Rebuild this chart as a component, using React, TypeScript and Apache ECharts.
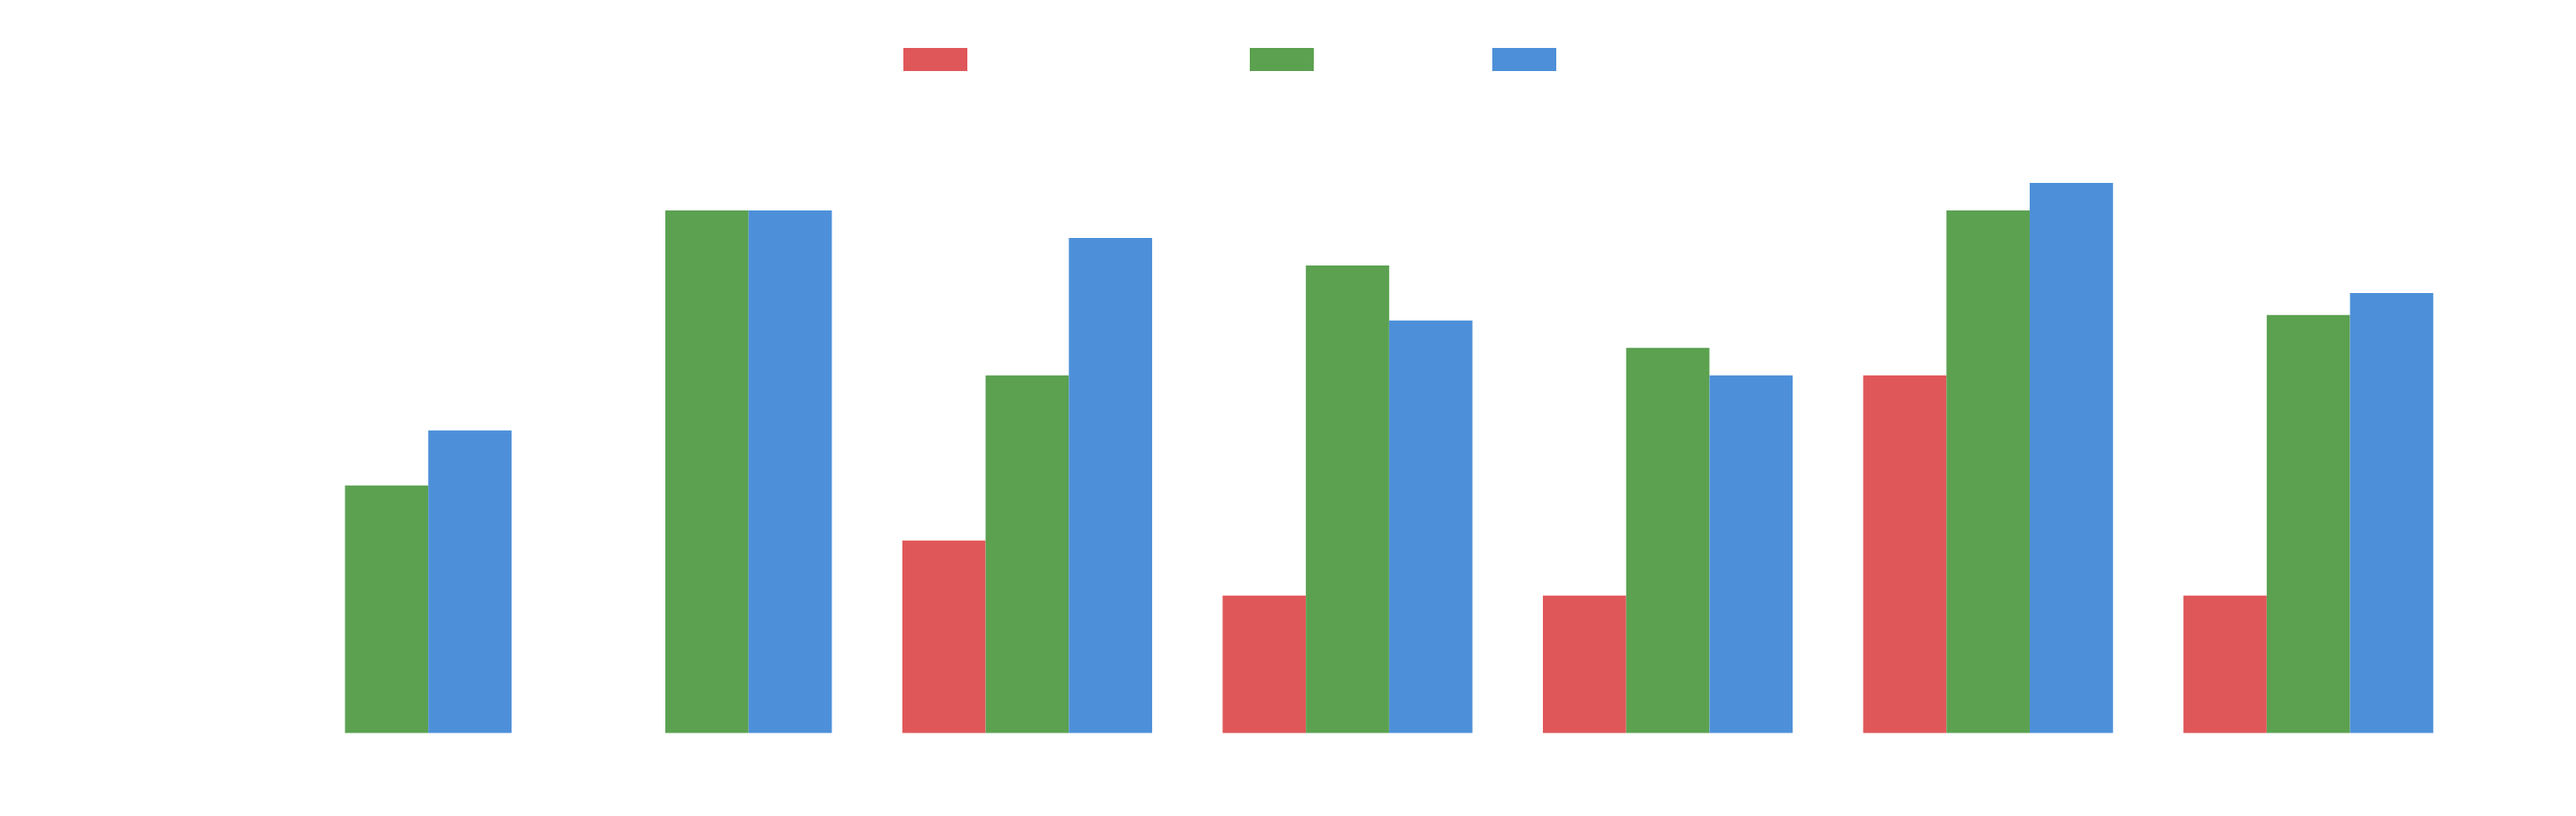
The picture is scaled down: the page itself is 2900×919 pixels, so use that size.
import React, { useEffect, useRef } from 'react';
import * as echarts from 'echarts';

const categories = ['Mon', 'Tue', 'Wed', 'Thu', 'Fri', 'Sat', 'Sun'];
const seriesNames = ['Series A', 'Series B', 'Series C'];
const redValues = [0, 0, 7, 5, 5, 13, 5];
const greenValues = [9, 19, 13, 17, 14, 19, 15.2];
const blueValues = [11, 19, 18, 15, 13, 20, 16];

const colors = ['#e05759', '#5ba150', '#4d90d9'];
// legend boxes have 5px padding, so these are swatch positions minus 5
const legendLefts = [1012, 1402, 1675];

const App: React.FC = () => {
  const chartRef = useRef<HTMLDivElement>(null);

  useEffect(() => {
    if (!chartRef.current) return;

    const chart = echarts.init(chartRef.current, null, { renderer: 'svg' });

    const values = [redValues, greenValues, blueValues];

    const option = {
      animation: false,
      backgroundColor: '#ffffff',
      // one legend per series so the swatches sit exactly where they are in the picture
      legend: seriesNames.map((name, i) => ({
        data: [name],
        left: legendLefts[i],
        top: 49,
        icon: 'rect',
        itemWidth: 72,
        itemHeight: 26,
        selectedMode: false,
        textStyle: { color: 'rgba(255,255,255,0)', fontSize: 16 }
      })),
      grid: {
        left: 255,
        right: 121,
        top: 206,
        bottom: 93.5,
        containLabel: false
      },
      xAxis: {
        type: 'category',
        data: categories,
        show: false
      },
      yAxis: {
        type: 'value',
        min: 0,
        max: 20,
        show: false
      },
      series: seriesNames.map((name, i) => ({
        name,
        type: 'bar',
        data: values[i],
        barGap: '0%',
        barCategoryGap: '22%',
        itemStyle: { color: colors[i] }
      }))
    };

    chart.setOption(option);

    const handleResize = () => {
      chart.resize();
    };
    window.addEventListener('resize', handleResize);

    return () => {
      chart.dispose();
      window.removeEventListener('resize', handleResize);
    };
  }, []);

  return (
    <div
      ref={chartRef}
      style={{ position: 'fixed', left: 0, top: 0, width: '2900px', height: '919px' }}
    />
  );
};

export default App;
